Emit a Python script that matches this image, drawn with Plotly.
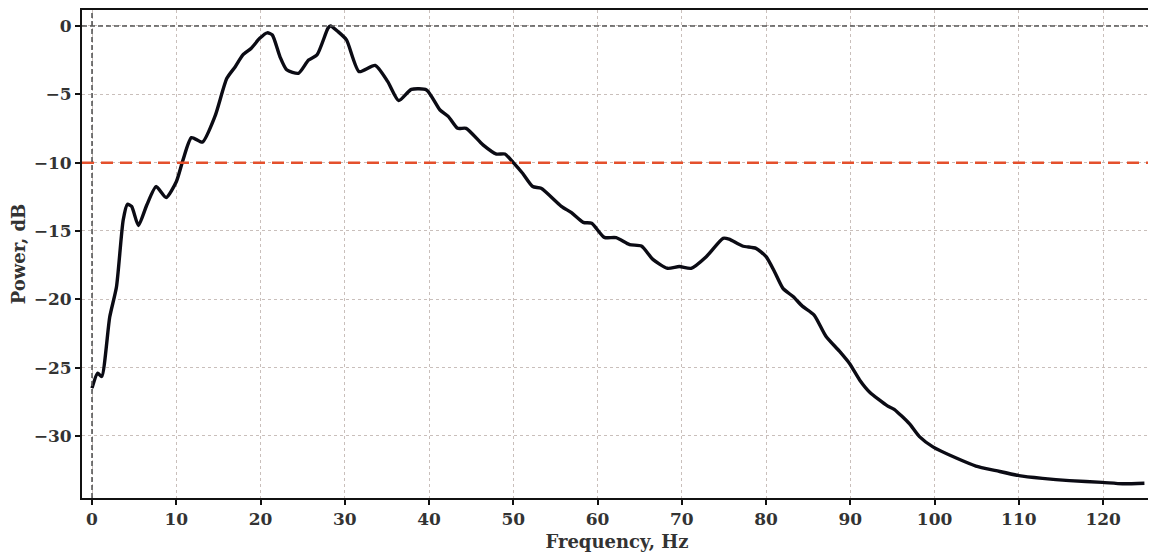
import plotly.graph_objects as go

freq_hz = [0, 0.67, 1.15, 2.1, 2.9, 3.7, 4.2, 4.7, 5.5, 6.5, 7.6, 8.8, 10.0, 10.8, 11.8,
           13.1, 14.6, 16.0, 17.0, 17.9, 18.9, 19.9, 20.8, 21.4, 22.3, 23.1, 24.5, 25.7,
           26.7, 28.0, 28.3, 29.2, 30.2, 31.7, 33.6, 35.1, 36.4, 37.9, 39.7, 41.3, 42.3,
           43.4, 44.4, 46.4, 48.0, 49.0, 50.0, 51.1, 52.3, 53.3, 55.7, 56.9, 58.3, 59.3,
           60.8, 62.2, 63.8, 65.2, 66.6, 68.3, 69.7, 71.1, 72.9, 74.9, 75.6, 77.2, 78.8,
           80.0, 81.0, 82.0, 83.2, 84.3, 85.7, 87.1, 88.7, 89.9, 91.1, 92.3, 94.4, 95.2,
           97.0, 98.2, 99.8, 102.5, 104.9, 107.3, 110.0, 112.8, 116.0, 119.9, 122.3, 124.9]
power_db = [-26.5, -25.4, -25.65, -21.3, -19.1, -14.2, -13.05, -13.2, -14.6, -13.1, -11.75,
            -12.55, -11.4, -9.8, -8.17, -8.5, -6.6, -3.83, -2.98, -2.12, -1.63, -0.9, -0.5,
            -0.66, -2.24, -3.2, -3.46, -2.49, -2.12, -0.17, 0.0, -0.41, -1.02, -3.34, -2.88,
            -4.07, -5.46, -4.64, -4.68, -6.15, -6.63, -7.49, -7.49, -8.7, -9.37, -9.37,
            -10.0, -10.78, -11.75, -11.88, -13.2, -13.66, -14.37, -14.44, -15.47, -15.49,
            -16.0, -16.1, -17.1, -17.73, -17.6, -17.73, -16.88, -15.54, -15.6, -16.1, -16.27,
            -16.88, -17.98, -19.2, -19.8, -20.5, -21.15, -22.7, -23.8, -24.7, -25.9, -26.8,
            -27.8, -28.05, -29.1, -30.05, -30.8, -31.6, -32.2, -32.54, -32.9, -33.1, -33.27,
            -33.4, -33.5, -33.46]
threshold_db = -10
x_ticks = [0, 10, 20, 30, 40, 50, 60, 70, 80, 90, 100, 110, 120]
y_ticks = [0, -5, -10, -15, -20, -25, -30]

FONT = "DejaVu Serif"

fig = go.Figure()
fig.add_trace(go.Scatter(x=freq_hz, y=power_db, mode="lines",
                         line=dict(color="#0b0b14", width=3.4, shape="spline", smoothing=0.6),
                         showlegend=False))

fig.add_hline(y=threshold_db, line=dict(color="#e4502c", width=2.5, dash="12px,7px"))
fig.add_hline(y=0, line=dict(color="#555555", width=1.6, dash="5px,3px"))
fig.add_vline(x=0, line=dict(color="#555555", width=1.6, dash="5px,3px"))

axis_common = dict(
    showline=True, linecolor="#111111", linewidth=2, mirror=True,
    ticks="outside", ticklen=5, tickwidth=1.5, tickcolor="#111111",
    showgrid=True, gridcolor="#c9bfbb", gridwidth=1, griddash="dot",
    zeroline=False, automargin=False,
    tickfont=dict(family=FONT, size=17, color="#333333", weight="bold"),
)

fig.update_xaxes(range=[-1.19, 125.8], tickvals=x_ticks,
                 title=dict(text="Frequency, Hz", standoff=13,
                            font=dict(family=FONT, size=18, color="#333333", weight="bold")),
                 **axis_common)
fig.update_yaxes(range=[-34.54, 1.17], tickvals=y_ticks,
                 title=dict(text="Power, dB", standoff=10,
                            font=dict(family=FONT, size=18, color="#333333", weight="bold")),
                 **axis_common)

fig.update_layout(width=1148, height=544,
                  margin=dict(l=74, r=4, t=2, b=54, autoexpand=False),
                  plot_bgcolor="white", paper_bgcolor="white")

fig.write_html("out.html")
